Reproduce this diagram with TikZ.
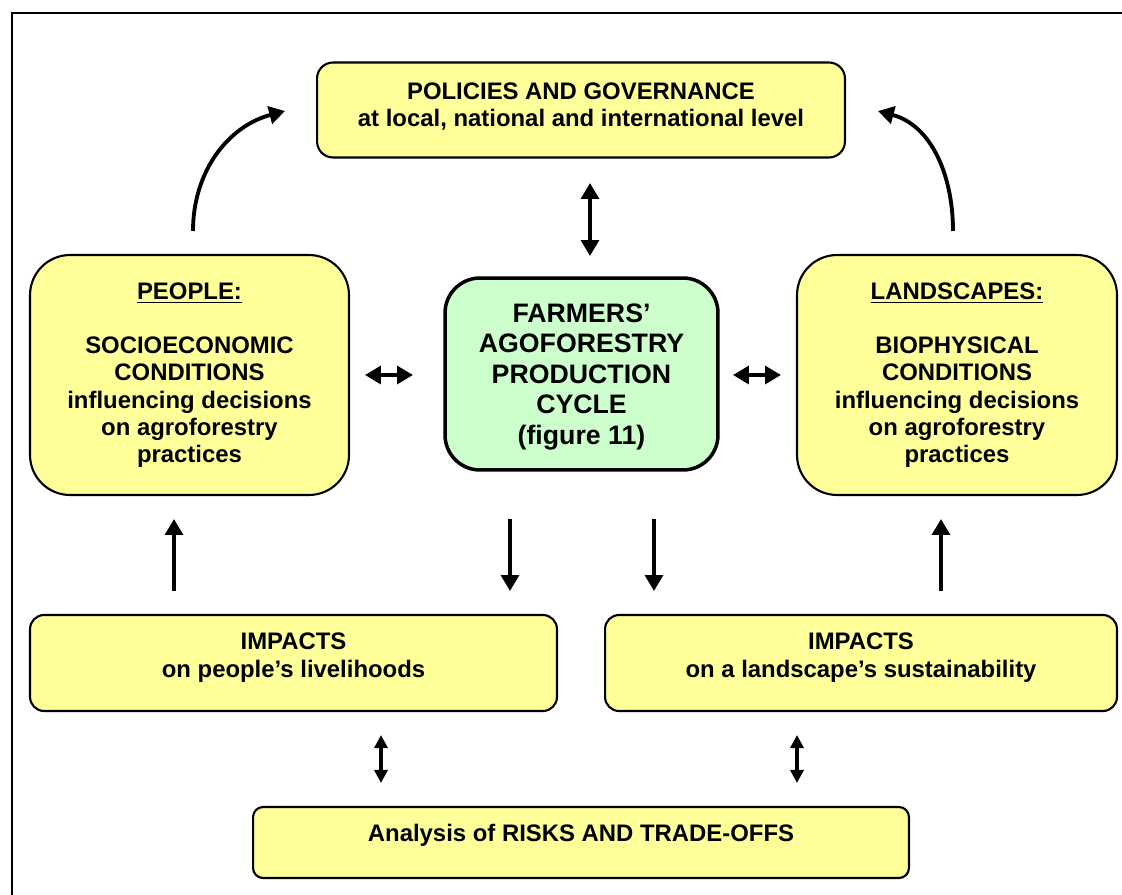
\documentclass[tikz,border=0pt]{standalone}
\usepackage{fontspec}
\setmainfont{Liberation Sans}
\usepackage{tikz}
\usetikzlibrary{arrows.meta}

\definecolor{boxyellow}{HTML}{FFFF99}
\definecolor{boxgreen}{HTML}{CCFFCC}

\tikzset{
  ybox/.style={draw, line width=1.2pt, fill=boxyellow, align=center, inner sep=0pt,
    font=\fontsize{13.6pt}{15.5pt}\selectfont\bfseries},
  gbox/.style={draw, line width=2pt, fill=boxgreen, align=center, inner sep=0pt,
    rounded corners=0.7cm, font=\fontsize{15.2pt}{17.3pt}\selectfont\bfseries},
  lift/.style={text depth=#1},
  arr/.style={line width=2.2pt, -{Triangle[width=10pt,length=9pt]}},
  darr/.style={line width=2.2pt, {Triangle[width=10pt,length=9pt]}-{Triangle[width=10pt,length=9pt]}},
  sdarr/.style={line width=2pt, {Triangle[width=7.5pt,length=7.5pt]}-{Triangle[width=7.5pt,length=7.5pt]}},
}

\begin{document}
\begin{tikzpicture}[x=0.02cm, y=-0.02cm]
   \useasboundingbox (0,0) rectangle (1122,895);
   \draw[line width=1.2pt] (1125,13) -| (12,900);

   \node[ybox, lift=6pt, rounded corners=0.32cm, minimum width=10.56cm, minimum height=1.9cm](policies) at (581,110)
      {POLICIES AND GOVERNANCE\\at local, national and international level};
   \node[ybox, rounded corners=0.8cm, minimum width=6.38cm, minimum height=4.8cm](people) at (189.5,375)
      {\underline{PEOPLE:}\\[15.5pt]SOCIOECONOMIC\\CONDITIONS\\influencing decisions\\on agroforestry\\practices};
   \node[gbox, lift=0pt, minimum width=5.46cm, minimum height=3.84cm](farmers) at (581.5,374)
      {FARMERS’\\AGOFORESTRY\\PRODUCTION\\CYCLE\\(figure 11)};
   \node[ybox, rounded corners=0.8cm, minimum width=6.4cm, minimum height=4.8cm](landscapes) at (957,375)
      {\underline{LANDSCAPES:}\\[15.5pt]BIOPHYSICAL\\CONDITIONS\\influencing decisions\\on agroforestry\\practices};
   \node[ybox, lift=9pt, rounded corners=0.28cm, minimum width=10.54cm, minimum height=1.92cm](impeople) at (293.5,663)
      {IMPACTS\\on people’s livelihoods};
   \node[ybox, lift=9pt, rounded corners=0.28cm, minimum width=10.24cm, minimum height=1.92cm](imland) at (861,663)
      {IMPACTS\\on a landscape’s sustainability};
   \node[ybox, lift=11pt, rounded corners=0.2cm, minimum width=13.12cm, minimum height=1.42cm](risks) at (581,842.5)
      {Analysis of RISKS AND TRADE-OFFS};

   % curved arrows up to policies
   \coordinate (lstart) at (193,231);
   \coordinate (lend) at (285,111);
   \coordinate (rstart) at (953,231);
   \coordinate (rend) at (878,111);
   \draw[arr](lstart) to[out=90, in=195] (lend);
   \draw[arr](rstart) to[out=90, in=-15] (rend);

   % double arrows
   \draw[darr](590,183) to (590,256);
   \draw[darr](365,375) to (413,375);
   \draw[darr](733,375) to (781,375);
   \draw[sdarr](381,735) to (381,783);
   \draw[sdarr](797,735) to (797,783);

   % up and down arrows
   \draw[arr](174,591) to (174,519);
   \draw[arr](941,591) to (941,519);
   \draw[arr](510,519) to (510,591);
   \draw[arr](654,519) to (654,591);
\end{tikzpicture}
\end{document}
